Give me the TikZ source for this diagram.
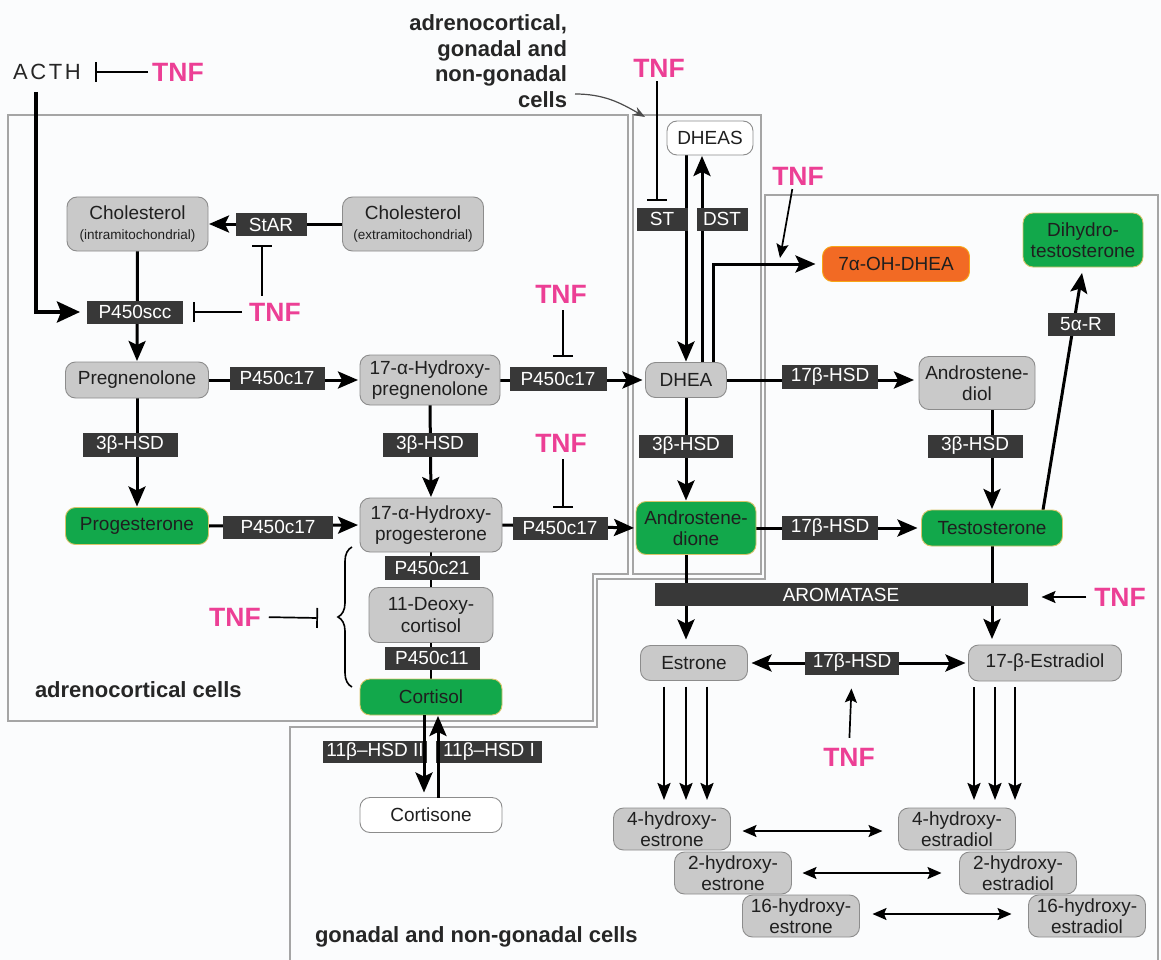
\documentclass[tikz,border=0pt]{standalone}
\usepackage{fontspec}
\setmainfont{Liberation Sans}
\newfontfamily\acthfont[LetterSpace=12]{Liberation Sans}
\usetikzlibrary{arrows.meta,decorations.pathreplacing,calc}
\definecolor{cgray}{HTML}{C9C9C9}
\definecolor{cborder}{HTML}{8C8C8C}
\definecolor{cgreen}{HTML}{12A84B}
\definecolor{gborder}{HTML}{D9C46A}
\definecolor{corange}{HTML}{F26A24}
\definecolor{enzfill}{HTML}{383838}
\definecolor{tnfpink}{HTML}{EC3F95}
\definecolor{regline}{HTML}{A5A5A5}
\definecolor{bgc}{HTML}{FBFCFD}
\pgfdeclarelayer{bg}
\pgfsetlayers{bg,main}
\begin{document}
\begin{tikzpicture}[x=1pt,y=-1pt,
  every node/.style={inner sep=0pt, outer sep=0pt},
  cmp/.style={rounded corners=10pt, fill=cgray, draw=cborder, line width=0.9pt, font=\fontsize{19}{21.5}\selectfont, align=center, text=black!88},
  grn/.style={cmp, fill=cgreen, draw=gborder},
  wht/.style={cmp, fill=white},
  org/.style={cmp, fill=corange, draw=corange!60!yellow},
  enz/.style={fill=enzfill, text=white, font=\fontsize{19}{21}\selectfont, minimum height=23pt},
  tnf/.style={text=tnfpink, font=\bfseries\fontsize{26.5}{26.5}\selectfont},
  lbl/.style={font=\bfseries\fontsize{22}{25.5}\selectfont, text=black!85},
  arr/.style={line width=3pt, -{Stealth[length=20pt,width=17pt,inset=4pt]}},
  marr/.style={line width=2.4pt, -{Stealth[length=17pt,width=13pt,inset=3pt]}},
  tarr/.style={line width=1.7pt, -{Stealth[length=14pt,width=12pt,inset=2.5pt]}},
  darr/.style={line width=1.7pt, {Stealth[length=14pt,width=12pt,inset=2.5pt]}-{Stealth[length=14pt,width=12pt,inset=2.5pt]}},
  dthick/.style={line width=3pt, {Stealth[length=20pt,width=17pt,inset=4pt]}-{Stealth[length=20pt,width=17pt,inset=4pt]}},
  inh/.style={line width=1.7pt, -{Bar[width=20pt]}},
  region/.style={draw=regline, line width=1.5pt},
]
\path[use as bounding box] (0,0) rectangle (1161,960);

% ---------- compounds ----------
\node[cmp, minimum width=141pt, minimum height=54pt] (cholin) at (137.5,224) {Cholesterol\\[-2pt]{\fontsize{13.5}{15}\selectfont (intramitochondrial)}};
\node[cmp, minimum width=141pt, minimum height=54pt] (cholex) at (413,224) {Cholesterol\\[-2pt]{\fontsize{13.5}{15}\selectfont (extramitochondrial)}};
\node[cmp, minimum width=143pt, minimum height=36pt] (preg) at (137,380) {Pregnenolone};
\node[grn, minimum width=143pt, minimum height=37pt] (prog) at (137,526) {Progesterone};
\node[cmp, minimum width=140pt, minimum height=50pt] (hpreg) at (430,380) {17-α-Hydroxy-\\pregnenolone};
\node[cmp, minimum width=142pt, minimum height=54pt] (hprog) at (431,525) {17-α-Hydroxy-\\progesterone};
\node[cmp, minimum width=124pt, minimum height=55pt] (deoxy) at (431,615) {11-Deoxy-\\cortisol};
\node[grn, minimum width=142pt, minimum height=36pt] (cortisol) at (431,697) {Cortisol};
\node[wht, minimum width=142pt, minimum height=35pt] (cortisone) at (431,815) {Cortisone};
\node[wht, minimum width=86pt, minimum height=34pt] (dheas) at (710,138) {DHEAS};
\node[cmp, minimum width=81pt, minimum height=35pt] (dhea) at (686,380) {DHEA};
\node[grn, minimum width=120pt, minimum height=53pt] (andro) at (696,528) {Androstene-\\dione};
\node[org, minimum width=147pt, minimum height=35pt] (ohdhea) at (896,264) {7α-OH-DHEA};
\node[grn, minimum width=120pt, minimum height=54pt] (dht) at (1083,240) {Dihydro-\\testosterone};
\node[cmp, minimum width=116pt, minimum height=53pt] (andiol) at (977,383) {Androstene-\\diol};
\node[grn, minimum width=141pt, minimum height=36pt] (testo) at (992,528) {Testosterone};
\node[cmp, minimum width=107pt, minimum height=35pt] (estrone) at (694,663) {Estrone};
\node[cmp, minimum width=153pt, minimum height=36pt] (estradiol) at (1045,663) {17-β-Estradiol};
\node[cmp, minimum width=117pt, minimum height=42pt] (h4e) at (672,829) {4-hydroxy-\\estrone};
\node[cmp, minimum width=117pt, minimum height=42pt] (h2e) at (733,873) {2-hydroxy-\\estrone};
\node[cmp, minimum width=117pt, minimum height=42pt] (h16e) at (801,916) {16-hydroxy-\\estrone};
\node[cmp, minimum width=117pt, minimum height=42pt] (h4d) at (957,829) {4-hydroxy-\\estradiol};
\node[cmp, minimum width=117pt, minimum height=42pt] (h2d) at (1018,873) {2-hydroxy-\\estradiol};
\node[cmp, minimum width=117pt, minimum height=42pt] (h16d) at (1087,916) {16-hydroxy-\\estradiol};

% ---------- enzymes ----------
\node[enz, minimum width=96pt] (p450scc) at (135,312) {P450scc};
\node[enz, minimum width=71pt] (star) at (271,224.5) {StAR};
\node[enz, minimum width=95pt] (p17a) at (277,378) {P450c17};
\node[enz, minimum width=110pt] (p17b) at (278,527) {P450c17};
\node[enz, minimum width=95pt, minimum height=24pt] (h3a) at (130,445) {3β-HSD};
\node[enz, minimum width=95pt, minimum height=24pt] (h3b) at (430,445) {3β-HSD};
\node[enz, minimum width=97pt, minimum height=24pt] (p17c) at (558,379) {P450c17};
\node[enz, minimum width=95pt] (p17d) at (560,528) {P450c17};
\node[enz, minimum width=94pt] (h3c) at (686,446) {3β-HSD};
\node[enz, minimum width=51pt] (st) at (662,219) {ST};
\node[enz, minimum width=51pt] (dst) at (722,219) {DST};
\node[enz, minimum width=96pt, minimum height=24pt] (b17a) at (830,377) {17β-HSD};
\node[enz, minimum width=96pt, minimum height=24pt] (b17b) at (830,528) {17β-HSD};
\node[enz, minimum width=95pt] (h3d) at (975,446) {3β-HSD};
\node[enz, minimum width=67pt] (r5a) at (1081,324) {5α-R};
\node[enz, minimum width=373pt] (arom) at (841,594.5) {AROMATASE};
\node[enz, minimum width=94pt] (b17c) at (852,663) {17β-HSD};
\node[enz, minimum width=95pt, minimum height=24pt] (p21) at (432,568) {P450c21};
\node[enz, minimum width=95pt] (p11) at (432,658) {P450c11};
\node[enz, minimum width=104pt, minimum height=22pt] (hsd2) at (375,752) {11β–HSD II};
\node[enz, minimum width=106pt, minimum height=22pt] (hsd1) at (489,752) {11β–HSD I};

% ---------- TNF and labels ----------
\node[font=\acthfont\fontsize{22}{22}\selectfont, text=black!85, anchor=west] (acth) at (13,72) {ACTH};
\node[tnf] (tnf1) at (178,72) {TNF};
\node[tnf] (tnf2) at (275,312) {TNF};
\node[tnf] (tnf3) at (561,294) {TNF};
\node[tnf] (tnf4) at (561,443) {TNF};
\node[tnf] (tnf5) at (659,68) {TNF};
\node[tnf] (tnf6) at (798,176) {TNF};
\node[tnf] (tnf7) at (1120,597) {TNF};
\node[tnf] (tnf8) at (849,757) {TNF};
\node[tnf] (tnf9) at (235,617) {TNF};
\node[lbl, align=right, anchor=north east] (toplbl) at (567,15) {adrenocortical,\\gonadal and\\non-gonadal\\cells};
\node[lbl, anchor=west] (adrlbl) at (35,690) {adrenocortical cells};
\node[lbl, anchor=west] (gonlbl) at (315,937) {gonadal and non-gonadal cells};

% ---------- helper coordinates ----------
\coordinate (acthc) at (36,92);
\coordinate (t6e) at (780,258);
\coordinate (brt) at (352,547);
\coordinate (brb) at (352,687);
\coordinate (brtip) at (318,618);
\coordinate (cs) at (575,94);
\coordinate (ce) at (645,117);

\begin{pgfonlayer}{bg}
\fill[bgc] (0,0) rectangle (1161,960);
% regions
\draw[region] (8,115) -- (628,115) -- (628,574) -- (593,574) -- (593,721) -- (8,721) -- cycle;
\draw[region] (633,115) rectangle (761,574);
\draw[region] (290,962) -- (290,727) -- (597,727) -- (597,579) -- (765,579) -- (765,195) -- (1158,195) -- (1158,962);

% connectors
\draw[line width=4pt, -{Stealth[length=23pt,width=21pt,inset=4pt]}, shorten >=7pt] (acthc) |- (p450scc.west);
\draw[arr, shorten >=1pt] (cholex.west) -- (cholin.east);
\draw[arr, shorten >=1pt] (cholin.south) -- (preg.north);
\draw[arr, shorten >=1pt] (preg.south) -- (prog.north);
\draw[arr, shorten >=2pt] (preg.east) -- (hpreg.west);
\draw[arr, shorten >=2pt] (prog.east) -- (hprog.west);
\draw[arr, shorten >=1pt] (hpreg.south) -- (hprog.north);
\draw[arr, shorten >=3pt] (hpreg.east) -- (dhea.west);
\draw[arr, shorten >=2pt] (hprog.east) -- (andro.west);
\draw[line width=2.2pt] (hprog.south) -- (cortisol.north);
\draw[arr, shorten >=1pt] (dheas.south -| dhea.north) -- (dhea.north);
\draw[arr, shorten >=1pt] ([xshift=16pt]dhea.north) -- ([xshift=16pt]dhea.north |- dheas.south);
\draw[arr, shorten >=7pt] ([xshift=27pt]dhea.north) |- (ohdhea.west);
\draw[arr, shorten >=1pt] (dhea.south) -- (andro.north -| dhea.south);
\draw[arr, shorten >=5pt] (dhea.east) -- (dhea.east -| andiol.west);
\draw[arr, shorten >=1pt] (testo.north |- andiol.south) -- (testo.north);
\draw[arr, shorten >=4pt] (andro.east) -- (testo.west);
\draw[arr, shorten >=6pt] ([xshift=51pt]testo.north) -- (dht.south);
\draw[arr, shorten >=6pt] (andro.south -| dhea.south) -- (estrone.north -| dhea.south);
\draw[arr, shorten >=6pt] (testo.south) -- (estradiol.north -| testo.south);
\draw[dthick, shorten <=4pt, shorten >=3pt] (estrone.east) -- (estradiol.west);
\end{pgfonlayer}

% connectors on top
\draw[arr, shorten >=5pt] ([xshift=-7pt]cortisol.south) -- ([xshift=-7pt]cortisone.north);
\draw[arr, shorten >=1pt] ([xshift=7pt]cortisone.north) -- ([xshift=7pt]cortisol.south);

\foreach \dx in {-30,-8,13} \draw[marr, shorten <=6pt, shorten >=8pt] ([xshift=\dx pt]estrone.south) -- ([xshift=\dx pt]estrone.south |- h4e.north);
\foreach \dx in {-71,-50,-30} \draw[marr, shorten <=6pt, shorten >=8pt] ([xshift=\dx pt]estradiol.south) -- ([xshift=\dx pt]estradiol.south |- h4d.north);

\draw[darr, shorten <=12pt, shorten >=16pt] ([yshift=-2pt]h4e.east) -- ([yshift=-2pt]h4d.west);
\draw[darr, shorten <=11pt, shorten >=18pt] (h2e.east) -- (h2d.west);
\draw[darr, shorten <=13pt, shorten >=17pt] ([yshift=2pt]h16e.east) -- ([yshift=2pt]h16d.west);

% TNF effects
\draw[inh, shorten <=4pt, shorten >=14pt] (tnf1.west) -- (acth.east);
\draw[inh, shorten <=7pt, shorten >=10pt] (tnf2.west) -- (p450scc.east);
\draw[inh, shorten <=7pt, shorten >=9pt] ([xshift=-13pt]tnf2.north) -- ([xshift=-13pt]tnf2.north |- star.south);
\draw[inh, shorten <=7pt, shorten >=10pt] ([xshift=2pt]tnf3.south) -- ([xshift=2pt]tnf3.south |- p17c.north);
\draw[inh, shorten <=7pt, shorten >=9pt] ([xshift=2pt]tnf4.south) -- ([xshift=2pt]tnf4.south |- p17d.north);
\draw[inh, shorten <=4pt, shorten >=7pt] ([xshift=-2pt]tnf5.south) -- ([xshift=-2pt]tnf5.south |- st.north);
\draw[tarr, shorten <=4pt] ([xshift=-5pt]tnf6.south) -- (t6e);
\draw[tarr, shorten <=8pt, shorten >=14pt] (tnf7.west) -- (tnf7.west -| arom.east);
\draw[tarr, shorten <=10pt, shorten >=14pt] (tnf8.north) -- (b17c.south);
\draw[inh, shorten <=8pt] (tnf9.east) -- (brtip);
\draw[line width=1.6pt, decorate, decoration={brace, amplitude=14pt}] (brb) -- (brt);
\draw[line width=1.2pt, black!70, -{Stealth[length=12pt,width=9pt]}] (cs) to[out=0,in=150] (ce);
\end{tikzpicture}
\end{document}
